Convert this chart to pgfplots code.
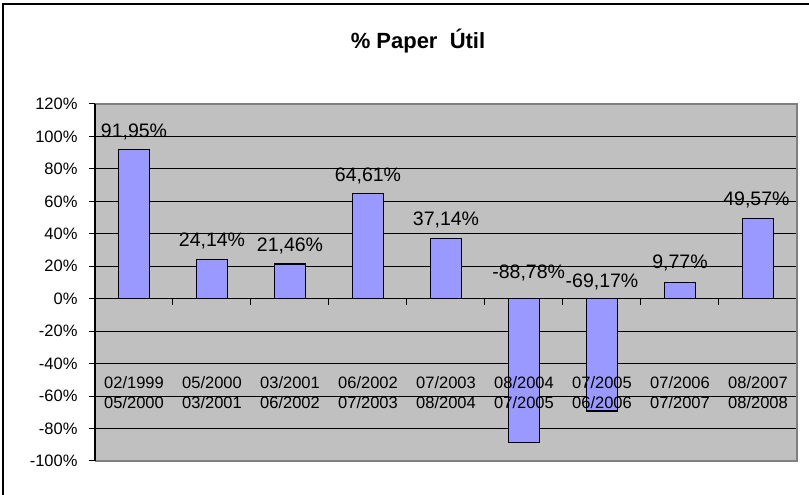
\documentclass[border=0pt]{standalone}
\usepackage{pgfplots}
\pgfplotsset{compat=1.18}
\usepackage{fontspec}
\setmainfont{Liberation Sans}
\definecolor{plotgray}{HTML}{C0C0C0}
\definecolor{barblue}{HTML}{9999FF}
\definecolor{edgegray}{HTML}{808080}
\begin{document}
\begin{tikzpicture}
\path[use as bounding box] (0,0) rectangle (809bp,495bp);
\draw[black, line width=2bp] (3bp,0) -- (3bp,491bp) -- (809bp,491bp);
\node[font=\bfseries\fontsize{22bp}{26bp}\selectfont, anchor=base, inner sep=0pt] at (418bp,446bp) {\%~Paper~~Útil};
\begin{axis}[
  at={(95bp,34bp)}, anchor=south west,
  scale only axis, width=702bp, height=357bp,
  xmin=-0.5, xmax=8.5, ymin=-100, ymax=120,
  axis background/.style={fill=plotgray},
  axis line style={draw=none},
  ytick={-100,-80,...,120},
  yticklabel={\pgfmathprintnumber{\tick}\%},
  /pgf/number format/assume math mode=true,
  ytick pos=left,
  tick align=outside,
  major tick length=6bp,
  ytick style={black, line width=1bp},
  ymajorgrids,
  major grid style={black, line width=1bp},
  xtick=\empty,
  yticklabel style={xshift=-8bp, font=\fontsize{16.5bp}{20bp}\selectfont},
  clip=false,
]
\addplot[ybar, bar width=31.5bp, fill=barblue, draw=black, line width=1.2bp]
  coordinates {(0,91.95) (1,24.14) (2,21.46) (3,64.61) (4,37.14) (5,-88.78) (6,-69.17) (7,9.77) (8,49.57)};
\addplot[only marks, mark=none, nodes near coords, point meta=explicit symbolic,
  nodes near coords style={anchor=center, inner sep=0pt, align=center, font=\fontsize{16.5bp}{20bp}\selectfont}]
  coordinates {(0,-57.8)[{02/1999\\05/2000}] (1,-57.8)[{05/2000\\03/2001}] (2,-57.8)[{03/2001\\06/2002}] (3,-57.8)[{06/2002\\07/2003}] (4,-57.8)[{07/2003\\08/2004}] (5,-57.8)[{08/2004\\07/2005}] (6,-57.8)[{07/2005\\06/2006}] (7,-57.8)[{07/2006\\07/2007}] (8,-57.8)[{08/2007\\08/2008}]};
\addplot[only marks, mark=none, nodes near coords, point meta=explicit symbolic,
  nodes near coords style={anchor=center, inner sep=0pt, font=\fontsize{19.5bp}{22bp}\selectfont}]
  coordinates {(0,102.8)[91,95\%] (1,35.6)[24,14\%] (2,32.8)[21,46\%] (3,75.8)[64,61\%] (4,48.6)[37,14\%] (5.06,16)[-88,78\%] (6,10.6)[-69,17\%] (7,22.1)[9,77\%] (7.98,60.8)[49,57\%]};
\draw[black, line width=1.5bp] (axis cs:-0.5,0) -- (axis cs:8.5,0);
\pgfplotsinvokeforeach{0.5,1.5,...,7.5}{\draw[black, line width=1bp] (axis cs:#1,0) -- ([yshift=-6bp]axis cs:#1,0);}
\draw[edgegray, line width=2bp] (rel axis cs:0,1) -- (rel axis cs:1,1) -- (rel axis cs:1,0) -- (rel axis cs:0,0);
\draw[black, line width=1.5bp] (rel axis cs:0,0) -- (rel axis cs:0,1);
\end{axis}
\end{tikzpicture}
\end{document}
